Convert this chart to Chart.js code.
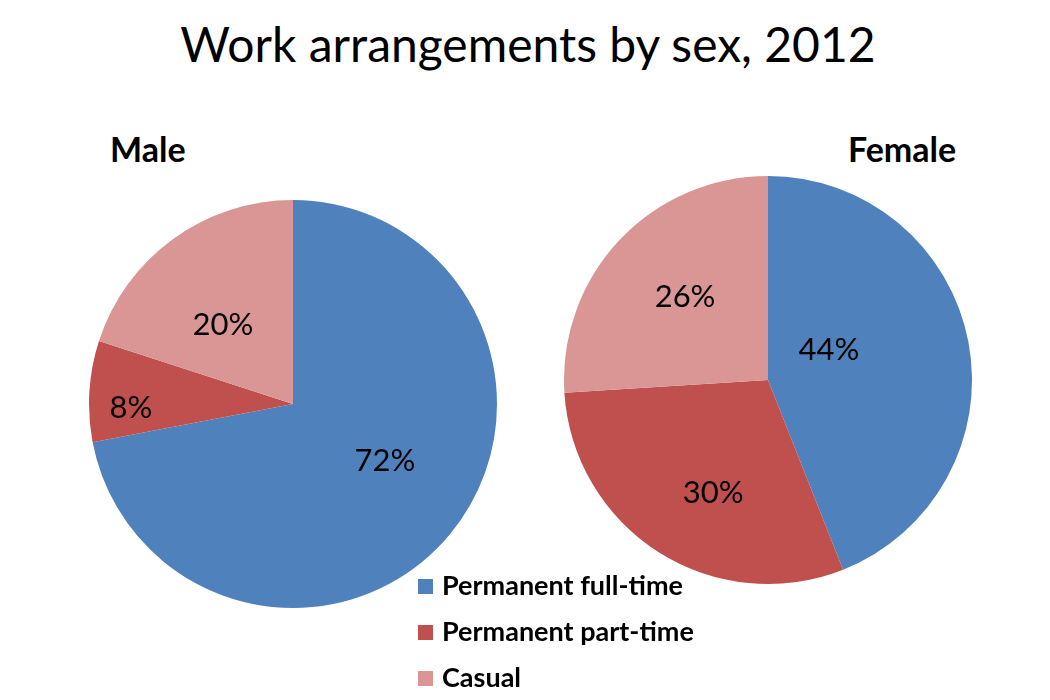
<!DOCTYPE html>
<html>
<head>
<meta charset="utf-8">
<script src="https://cdn.jsdelivr.net/npm/chart.js@4"></script>
<style>
  body { margin: 0; width: 1050px; height: 700px; background: #fff; font-family: Lato, "Open Sans", sans-serif; position: relative; overflow: hidden; }
  .title { position: absolute; left: 3px; width: 1050px; top: 15px; text-align: center; font-size: 48px; color: #000; }
  .sub { position: absolute; top: 128px; font-size: 34px; font-weight: bold; color: #000; }
  .pie { position: absolute; width: 410px; height: 410px; }
  .legend { position: absolute; left: 418px; top: 567px; }
  .legend div { height: 46px; line-height: 36px; font-size: 27px; font-weight: bold; color: #000; display: flex; align-items: flex-start; }
  .legend span.box { display: inline-block; width: 15px; height: 15px; margin: 12px 9px 0 0; }
</style>
</head>
<body>
<div class="title">Work arrangements by sex, 2012</div>
<div class="sub" style="left:110px">Male</div>
<div class="sub" style="left:848px">Female</div>
<div class="pie" style="left:88px; top:199px"><canvas id="male"></canvas></div>
<div class="pie" style="left:563px; top:175px"><canvas id="female"></canvas></div>
<div class="legend" id="legend"></div>
<script>
// ===================================
// DATA
// ===================================
const categories = ['Permanent full-time', 'Permanent part-time', 'Casual'];
const maleValues = [72, 8, 20];
const femaleValues = [44, 30, 26];
const sliceColors = ['#4f81bd', '#c0504d', '#d99694'];

// label placement: fraction of radius, and degrees nudged off the mid-angle
const maleLabelRadius = [0.53, 0.795, 0.518];
const maleLabelShift = [-7.8, -5, -5.5];
const femaleLabelRadius = [0.333, 0.616, 0.575];
const femaleLabelShift = [-15.4, -6.5, 1.8];

// ===================================
// SLICE LABELS
// ===================================
const sliceLabels = {
    id: 'sliceLabels',
    afterDatasetsDraw(chart, args, opts) {
        const { ctx } = chart;
        const meta = chart.getDatasetMeta(0);
        const values = chart.data.datasets[0].data;
        ctx.save();
        ctx.font = '31px Lato, "Open Sans", sans-serif';
        ctx.fillStyle = '#000';
        ctx.textAlign = 'center';
        ctx.textBaseline = 'middle';
        meta.data.forEach((arc, i) => {
            const p = arc.getProps(['x', 'y', 'startAngle', 'endAngle', 'outerRadius'], true);
            const mid = (p.startAngle + p.endAngle) / 2 + opts.shift[i] * Math.PI / 180;
            const r = p.outerRadius * opts.radius[i];
            ctx.fillText(values[i] + '%', p.x + Math.cos(mid) * r, p.y + Math.sin(mid) * r);
        });
        ctx.restore();
    }
};

function makePie(id, values, labelRadius, labelShift) {
    return new Chart(document.getElementById(id), {
        type: 'pie',
        data: {
            labels: categories,
            datasets: [{
                data: values,
                backgroundColor: sliceColors,
                borderWidth: 0
            }]
        },
        options: {
            responsive: true,
            maintainAspectRatio: false,
            animation: false,
            layout: { padding: 1 },
            plugins: {
                legend: { display: false },
                tooltip: { enabled: false },
                sliceLabels: { radius: labelRadius, shift: labelShift }
            }
        },
        plugins: [sliceLabels]
    });
}

makePie('male', maleValues, maleLabelRadius, maleLabelShift);
makePie('female', femaleValues, femaleLabelRadius, femaleLabelShift);

// shared legend
const legend = document.getElementById('legend');
categories.forEach((c, i) => {
    const row = document.createElement('div');
    row.innerHTML = '<span class="box" style="background:' + sliceColors[i] + '"></span>' + c;
    legend.appendChild(row);
});
</script>
</body>
</html>
